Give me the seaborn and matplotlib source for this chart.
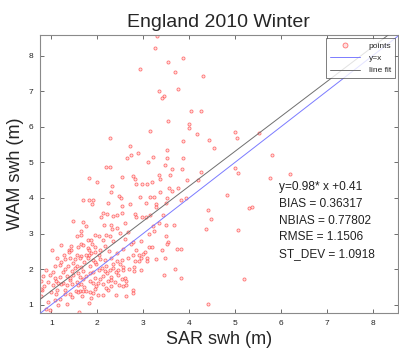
import matplotlib
matplotlib.use("Agg")
import matplotlib.pyplot as plt
import seaborn as sns
import pandas as pd

# SAR vs WAM significant wave height, England, winter 2010
sar_swh = [
    3.30, 3.25, 3.87, 3.54, 2.93, 3.70, 4.31, 3.76, 3.34, 3.46, 3.41, 4.04, 4.26, 3.54, 3.99, 3.99,
    3.16, 5.01, 5.52, 4.18, 5.04, 2.27, 3.86, 4.44, 2.71, 4.54, 3.52, 2.88, 2.73, 5.81, 2.65, 3.22,
    3.52, 3.87, 3.11, 3.47, 2.20, 2.27, 5.01, 3.63, 3.85, 5.06, 6.21, 4.27, 3.34, 2.77, 3.58, 1.82,
    2.53, 2.83, 3.96, 4.20, 5.76, 3.36, 1.99, 2.85, 2.98, 3.08, 3.20, 2.33, 3.56, 3.76, 3.36, 2.29,
    3.63, 2.47, 2.52, 2.93, 3.14, 3.24, 4.83, 1.68, 1.82, 1.90, 3.52, 3.82, 3.93,
    1.89, 2.23, 2.55, 2.72, 3.06, 3.29, 3.49, 3.28, 5.31, 5.37, 4.41, 2.13, 2.09, 2.22, 2.34, 2.43,
    2.53, 2.82, 2.84, 2.98, 3.06, 3.16, 3.43, 4.47, 1.47, 1.70, 2.15, 2.31, 2.60, 3.35, 3.49, 3.68,
    3.22, 2.33, 2.42, 4.36, 5.07, 3.24, 1.65, 1.64, 1.94, 2.04, 1.55, 2.20, 2.28, 2.50, 3.13, 3.49,
    1.80, 1.87, 2.12, 2.78, 2.74, 2.96, 3.54, 3.51, 1.65, 1.69, 1.89, 1.21, 3.13, 3.19, 2.56, 2.85,
    3.03, 3.42, 3.74, 3.83, 2.78, 2.92, 2.99,
    2.53, 2.67, 2.82, 2.92, 2.96, 3.08, 3.08, 3.29, 3.47, 2.57, 2.57, 2.69, 2.81, 2.81, 2.95, 2.53,
    2.60, 2.62, 3.45, 3.69, 3.83, 2.57, 2.62, 2.77, 2.77, 2.62, 5.20, 4.42,
    1.01, 1.38, 1.43, 1.39, 1.86, 1.95, 1.81, 2.03, 1.55, 1.28, 1.64, 2.42, 1.79, 1.83, 1.94, 2.17,
    1.29, 1.40, 1.51, 1.62, 1.80, 1.91, 2.05, 2.16, 2.31, 2.42,
    1.07, 1.18, 1.36, 1.55, 1.65, 1.84, 1.98, 2.20, 2.34,
    0.89, 1.04, 1.25, 1.44, 1.69, 1.91, 2.04, 2.16, 2.27, 2.40,
    0.82, 0.96, 1.18, 1.33, 1.47, 1.62, 1.76, 1.94, 2.13, 2.31, 2.45,
    0.78, 0.93, 1.11, 1.25, 1.41, 1.55, 1.84, 2.02, 2.23, 2.38,
    0.85, 1.04, 1.22, 1.45, 1.58, 1.72, 1.97, 2.12, 2.30, 2.48,
    1.53, 1.62, 1.69, 1.76, 1.84, 1.58, 1.91, 1.12, 1.30, 2.24, 0.80, 0.78,
    0.78, 1.11, 1.29, 1.18, 1.07, 1.45, 1.66, 2.02, 2.13, 1.87, 2.40,
    0.89, 0.98, 1.82, 1.60, 1.35, 1.15, 0.92,
    1.20, 1.47, 1.72, 1.95, 2.10, 1.30, 1.58, 1.85, 2.22, 1.08, 1.40, 1.70, 2.05, 2.30, 1.15, 1.35,
    1.65, 1.90, 2.20, 1.00, 1.40, 1.95, 2.35, 1.52, 1.75, 2.25, 1.12, 2.50, 2.45, 1.58, 2.05, 1.75,
    1.43, 2.35, 2.60, 2.68,
]
wam_swh = [
    8.55, 8.23, 7.93, 7.82, 7.62, 7.55, 7.44, 7.06, 7.01, 6.88, 6.80, 6.45, 6.45, 6.16, 6.07, 5.97,
    5.89, 5.86, 5.83, 5.80, 5.69, 5.68, 5.61, 5.63, 5.45, 5.41, 5.35, 5.26, 5.21, 5.21, 5.13, 5.14,
    5.12, 5.12, 5.00, 4.93, 4.88, 4.88, 4.83, 4.81, 4.81, 4.71, 4.67, 4.74, 4.66, 4.62, 4.64, 4.56,
    4.59, 4.53, 4.50, 4.52, 4.55, 4.54, 4.46, 4.39, 4.39, 4.39, 4.44, 4.35, 4.28, 4.28, 4.18, 4.18,
    4.20, 4.07, 4.01, 4.02, 4.02, 4.04, 4.08, 3.95, 3.95, 3.94, 4.00, 3.94, 4.00,
    3.82, 3.86, 3.78, 3.82, 3.87, 3.84, 3.86, 3.75, 3.73, 3.75, 3.66, 3.58, 3.47, 3.54, 3.49, 3.53,
    3.58, 3.56, 3.47, 3.47, 3.47, 3.52, 3.52, 3.40, 3.35, 3.32, 3.25, 3.24, 3.30, 3.30, 3.25, 3.25,
    3.22, 3.14, 3.15, 3.14, 3.09, 3.07, 3.06, 2.97, 2.97, 2.92, 2.92, 2.97, 2.93, 3.02, 2.99, 2.92,
    2.83, 2.83, 2.83, 2.76, 2.71, 2.80, 2.76, 2.71, 2.72, 2.69, 2.72, 2.69, 2.61, 2.63, 2.57, 2.55,
    2.48, 2.54, 2.57, 2.57, 2.41, 2.41, 2.43,
    2.26, 2.31, 2.22, 2.22, 2.31, 2.30, 2.22, 2.28, 2.30, 2.05, 1.98, 2.00, 2.06, 1.96, 1.98, 1.71,
    1.74, 1.67, 1.83, 1.99, 1.74, 1.52, 1.55, 1.40, 1.32, 1.24, 1.72, 1.03,
    2.55, 2.53, 2.53, 2.48, 2.45, 2.49, 2.41, 2.39, 2.41, 2.39, 2.36, 2.44, 2.59, 2.55, 2.62, 2.64,
    2.28, 2.31, 2.29, 2.31, 2.32, 2.27, 2.29, 2.26, 2.31, 2.24,
    2.10, 2.12, 2.08, 2.10, 2.06, 2.08, 2.13, 2.10, 2.14,
    1.97, 1.93, 1.91, 1.96, 1.96, 1.91, 1.98, 1.94, 1.98, 1.91,
    1.81, 1.84, 1.78, 1.81, 1.84, 1.78, 1.81, 1.76, 1.81, 1.78, 1.84,
    1.67, 1.65, 1.67, 1.62, 1.69, 1.65, 1.67, 1.62, 1.67, 1.65,
    1.52, 1.55, 1.57, 1.59, 1.54, 1.50, 1.53, 1.58, 1.52, 1.56,
    1.38, 1.38, 1.38, 1.38, 1.37, 1.36, 1.33, 1.40, 1.42, 1.40, 1.42, 1.45,
    1.23, 1.31, 1.31, 1.17, 1.12, 1.22, 1.25, 1.26, 1.26, 1.20, 1.28,
    0.89, 0.84, 1.05, 0.79, 1.02, 1.00, 1.08,
    2.20, 2.18, 2.20, 2.21, 2.02, 2.00, 1.88, 1.88, 1.88, 1.75, 1.74, 1.72, 1.72, 1.70, 1.60, 1.55,
    1.58, 1.60, 1.46, 1.35, 1.30, 1.45, 2.02, 2.03, 2.40, 2.50, 2.30, 2.15, 1.98, 2.62, 2.55, 3.20,
    2.66, 2.80, 2.85, 3.05,
]

# Least-squares fit and reference line
fit_slope = 0.98
fit_intercept = 0.41
line_x = [0.70, 8.70]

stats_lines = [
    "y=0.98* x +0.41",
    "BIAS = 0.36317",
    "NBIAS = 0.77802",
    "RMSE = 1.1506",
    "ST_DEV = 1.0918",
]

x_ticks = [1, 2, 3, 4, 5, 6, 7, 8]
y_ticks = [1, 2, 3, 4, 5, 6, 7, 8]

sns.set_style("white")
plt.rcParams["font.family"] = ["Liberation Sans", "DejaVu Sans"]

fig = plt.figure(figsize=(3.99, 3.48), dpi=100)
ax = fig.add_axes([0.100, 0.100, 0.897, 0.799])

points = pd.DataFrame({"sar": sar_swh, "wam": wam_swh})
lines = pd.DataFrame({
    "x": line_x,
    "identity": line_x,
    "fit": [fit_slope * v + fit_intercept for v in line_x],
})

sns.scatterplot(data=points, x="sar", y="wam", ax=ax, marker="o", s=5,
                facecolor="#ffd0d0", edgecolor="#ff3030", linewidth=0.6, alpha=0.65,
                label="points", zorder=2)
sns.lineplot(data=lines, x="x", y="identity", ax=ax, color="#7b7bff",
             linewidth=0.7, label="y=x", zorder=3)
sns.lineplot(data=lines, x="x", y="fit", ax=ax, color="#6f6f6f",
             linewidth=0.7, label="line fit", zorder=3)

ax.set_xlim(0.75, 8.55)
ax.set_ylim(0.76, 8.58)
ax.set_xticks(x_ticks)
ax.set_yticks(y_ticks)
ax.tick_params(axis="both", which="both", direction="in", length=3, width=0.6,
               color="#555555", labelsize=6, labelcolor="#222222",
               top=True, right=True, bottom=True, left=True, pad=5)
for side in ax.spines.values():
    side.set_visible(True)
    side.set_color("#8a8a8a")
    side.set_linewidth(0.8)

ax.set_title("England 2010 Winter", fontsize=14, pad=6)
ax.set_xlabel("SAR swh (m)", fontsize=13, labelpad=3)
ax.set_ylabel("WAM swh (m)", fontsize=13, labelpad=3)

for i, line in enumerate(stats_lines):
    ax.text(5.96, 4.30 - 0.47 * i, line, fontsize=8.6, va="center", ha="left",
            color="#222222")

leg = ax.legend(loc="upper right", fontsize=6, frameon=True, fancybox=False,
                borderpad=0.45, handlelength=3.6, handletextpad=1.0,
                labelspacing=0.55, borderaxespad=0.35, markerscale=1.6)
leg.get_frame().set_edgecolor("#444444")
leg.get_frame().set_linewidth(0.6)

fig.savefig("out.png", dpi=100)
